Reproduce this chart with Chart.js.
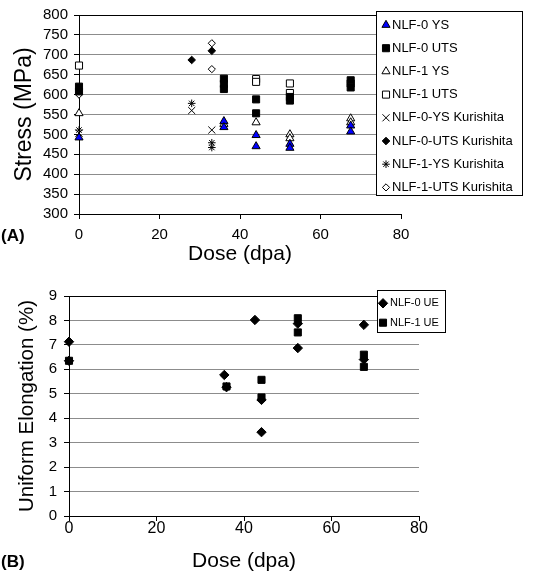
<!DOCTYPE html>
<html>
<head>
<meta charset="utf-8">
<script src="https://cdn.jsdelivr.net/npm/chart.js@4.4.1/dist/chart.umd.min.js"></script>
<style>
  body { margin: 0; background: #fff; }
  #wrap { position: relative; width: 536px; height: 576px; }
  canvas { position: absolute; left: 0; }
  .tag { position: absolute; left: 1px; font: bold 17px "Liberation Sans", Arial, sans-serif; }
</style>
</head>
<body>
<div id="wrap">
  <canvas id="chartA" width="536" height="270" style="top:0"></canvas>
  <canvas id="chartB" width="536" height="296" style="top:280px"></canvas>
  <div class="tag" style="top:226px">(A)</div>
  <div class="tag" style="top:552px">(B)</div>
</div>
<script>
// (A) stress vs dose
var nlf0YsDose = [0, 36, 36, 44, 44, 52.4, 52.4, 67.5, 67.5];
var nlf0YsStress = [492, 533, 518, 498, 470, 476, 466, 522, 507];
var nlf0UtsDose = [0, 0, 36, 36, 36, 44, 44, 52.4, 52.4, 67.5, 67.5];
var nlf0UtsStress = [620, 608, 640, 627, 614, 588, 553, 594, 585, 636, 618];
var nlf1YsDose = [0, 36, 44, 52.4, 52.4, 67.5, 67.5];
var nlf1YsStress = [553, 526, 530, 500, 490, 540, 530];
var nlf1UtsDose = [0, 44, 44, 52.4, 52.4, 67.5];
var nlf1UtsStress = [673, 639, 632, 628, 604, 628];
var k0YsDose = [0, 28, 33];
var k0YsStress = [503, 560, 511];
var k0UtsDose = [0, 28, 33];
var k0UtsStress = [614, 687, 710];
var k1YsDose = [0, 28, 33, 33];
var k1YsStress = [511, 578, 479, 467];
var k1UtsDose = [0, 33, 33];
var k1UtsStress = [600, 729, 664];

// (B) uniform elongation vs dose
var nlf0UeDose = [0, 0, 35.5, 36, 42.5, 44, 44, 52.3, 52.3, 67.4, 67.4];
var nlf0UeValue = [7.13, 6.35, 5.77, 5.27, 8.02, 4.75, 3.43, 7.87, 6.87, 7.82, 6.4];
var nlf1UeDose = [0, 36, 44, 44, 52.3, 52.3, 67.4, 67.4];
var nlf1UeValue = [6.35, 5.3, 5.57, 4.85, 8.09, 7.51, 6.6, 6.1];

var doseTicks = [0, 20, 40, 60, 80];

Chart.defaults.font.family = '"Liberation Sans", Arial, sans-serif';
Chart.defaults.color = '#000';

function pts(xs, ys) {
    return xs.map(function(x, i) { return {x: x, y: ys[i]}; });
}

function series(label, xs, ys, style, r, fill) {
    return {
        label: label,
        data: pts(xs, ys),
        pointStyle: style,
        pointRadius: r,
        pointHoverRadius: r,
        backgroundColor: fill,
        borderColor: '#000',
        borderWidth: 1,
        clip: false
    };
}

// legend drawn as a boxed panel over the plot, like the original
var boxLegend = {
    id: 'boxLegend',
    afterDraw: function(chart, args, o) {
        var ctx = chart.ctx;
        ctx.save();
        ctx.fillStyle = '#fff';
        ctx.fillRect(o.x, o.y, o.w, o.h);
        ctx.strokeStyle = '#000';
        ctx.lineWidth = 1;
        ctx.strokeRect(o.x + 0.5, o.y + 0.5, o.w, o.h);
        ctx.font = o.font;
        ctx.textBaseline = 'middle';
        chart.data.datasets.forEach(function(ds, i) {
            var cy = o.y + o.first + i * o.step;
            ctx.fillStyle = ds.backgroundColor;
            ctx.strokeStyle = ds.borderColor;
            ctx.lineWidth = ds.borderWidth;
            Chart.helpers.drawPoint(ctx, {
                pointStyle: ds.pointStyle,
                radius: ds.pointRadius,
                rotation: 0,
                borderWidth: ds.borderWidth
            }, o.symX, cy);
            ctx.fillStyle = '#000';
            ctx.fillText(ds.label, o.textX, cy);
        });
        ctx.restore();
    }
};

function xScale(fontSize, tickPad, titlePad, height) {
    return {
        type: 'linear', min: 0, max: 80,
        afterBuildTicks: function(s) { s.ticks = doseTicks.map(function(v) { return {value: v}; }); },
        ticks: { font: {size: fontSize}, padding: tickPad, autoSkip: false, maxRotation: 0 },
        grid: { drawOnChartArea: false, tickLength: 5, tickColor: '#000' },
        border: { color: '#000' },
        title: { display: true, text: 'Dose (dpa)', font: {size: 21}, padding: {top: 0, bottom: titlePad} },
        afterFit: function(s) { s.height = height; }
    };
}

function yScale(min, max, step, label, fontSize, titleSize, tickPad, titlePad, width) {
    return {
        min: min, max: max,
        ticks: { stepSize: step, font: {size: fontSize}, padding: tickPad, autoSkip: false },
        grid: {
            color: function(c) { return c.tick && c.tick.value === max ? '#000' : '#8c8c8c'; },
            tickLength: 5, tickColor: '#000'
        },
        border: { color: '#000' },
        title: { display: true, text: label, font: {size: titleSize}, padding: {top: titlePad, bottom: 0} },
        afterFit: function(s) { s.width = width; }
    };
}

new Chart(document.getElementById('chartA'), {
    type: 'scatter',
    data: {
        datasets: [
            series('NLF-0 YS', nlf0YsDose, nlf0YsStress, 'triangle', 4.7, '#0000ff'),
            series('NLF-0 UTS', nlf0UtsDose, nlf0UtsStress, 'rect', 5, '#000'),
            series('NLF-1 YS', nlf1YsDose, nlf1YsStress, 'triangle', 4.7, '#fff'),
            series('NLF-1 UTS', nlf1UtsDose, nlf1UtsStress, 'rect', 5, '#fff'),
            series('NLF-0-YS Kurishita', k0YsDose, k0YsStress, 'crossRot', 5, '#000'),
            series('NLF-0-UTS Kurishita', k0UtsDose, k0UtsStress, 'rectRot', 3.8, '#000'),
            series('NLF-1-YS Kurishita', k1YsDose, k1YsStress, 'star', 3.8, '#000'),
            series('NLF-1-UTS Kurishita', k1UtsDose, k1UtsStress, 'rectRot', 3.6, '#fff')
        ]
    },
    options: {
        responsive: false,
        animation: false,
        layout: { padding: {left: 0, top: 15, right: 135, bottom: 0} },
        scales: {
            x: xScale(15, 7, 3, 56),
            y: yScale(300, 800, 50, 'Stress (MPa)', 15, 23, 6, 11, 79)
        },
        plugins: {
            legend: { display: false },
            tooltip: { enabled: false },
            boxLegend: { x: 376, y: 11, w: 146, h: 184, first: 14, step: 23.2, symX: 386, textX: 392, font: '13px "Liberation Sans", Arial, sans-serif' }
        }
    },
    plugins: [boxLegend]
});

new Chart(document.getElementById('chartB'), {
    type: 'scatter',
    data: {
        datasets: [
            series('NLF-0 UE', nlf0UeDose, nlf0UeValue, 'rectRot', 4.7, '#000'),
            series('NLF-1 UE', nlf1UeDose, nlf1UeValue, 'rect', 5, '#000')
        ]
    },
    options: {
        responsive: false,
        animation: false,
        layout: { padding: {left: 0, top: 15, right: 117, bottom: 0} },
        scales: {
            x: xScale(16, -2, 2, 60),
            y: yScale(0, 9, 1, 'Uniform Elongation (%)', 15, 20.5, 7, 15, 69)
        },
        plugins: {
            legend: { display: false },
            tooltip: { enabled: false },
            boxLegend: { x: 377, y: 10, w: 68, h: 42, first: 13.3, step: 19.4, symX: 383, textX: 390, font: '11px "Liberation Sans", Arial, sans-serif' }
        }
    },
    plugins: [boxLegend]
});
</script>
</body>
</html>
